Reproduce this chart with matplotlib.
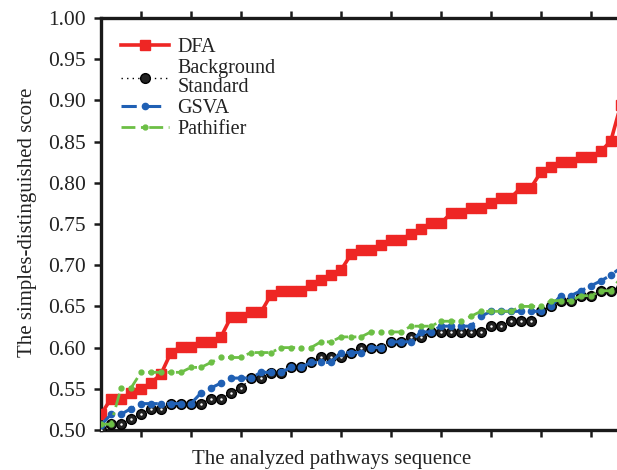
import matplotlib.pyplot as plt
import numpy as np

plt.rcParams['font.family'] = ['Liberation Serif', 'DejaVu Serif']

# pathway index 1..53 (the last point is cut off by the right border)
pathway_idx = np.arange(1, 54)

dfa = [0.519, 0.538, 0.538, 0.545, 0.550, 0.557, 0.568, 0.594, 0.601, 0.601,
       0.607, 0.607, 0.613, 0.637, 0.637, 0.643, 0.643, 0.664, 0.669, 0.669,
       0.669, 0.676, 0.682, 0.688, 0.694, 0.713, 0.718, 0.718, 0.725, 0.731,
       0.731, 0.738, 0.744, 0.751, 0.751, 0.763, 0.763, 0.769, 0.769, 0.775,
       0.782, 0.782, 0.794, 0.794, 0.813, 0.819, 0.825, 0.825, 0.831, 0.831,
       0.838, 0.851, 0.895]

background = [0.500, 0.507, 0.507, 0.513, 0.519, 0.526, 0.526, 0.532, 0.532, 0.532,
              0.532, 0.538, 0.538, 0.545, 0.551, 0.563, 0.563, 0.569, 0.569, 0.576,
              0.576, 0.582, 0.588, 0.588, 0.588, 0.594, 0.600, 0.600, 0.600, 0.607,
              0.607, 0.613, 0.613, 0.619, 0.619, 0.619, 0.619, 0.619, 0.619, 0.626,
              0.626, 0.632, 0.632, 0.632, 0.644, 0.650, 0.657, 0.657, 0.663, 0.663,
              0.669, 0.669, 0.672]

gsva = [0.506, 0.519, 0.519, 0.526, 0.532, 0.532, 0.532, 0.532, 0.532, 0.532,
        0.545, 0.551, 0.557, 0.563, 0.563, 0.563, 0.570, 0.570, 0.570, 0.576,
        0.576, 0.582, 0.582, 0.582, 0.594, 0.594, 0.594, 0.600, 0.600, 0.607,
        0.607, 0.607, 0.619, 0.619, 0.626, 0.626, 0.626, 0.626, 0.638, 0.644,
        0.644, 0.644, 0.644, 0.644, 0.644, 0.650, 0.663, 0.663, 0.669, 0.675,
        0.681, 0.688, 0.697]

pathifier = [0.507, 0.507, 0.551, 0.551, 0.570, 0.570, 0.570, 0.570, 0.570, 0.576,
             0.576, 0.582, 0.588, 0.588, 0.588, 0.594, 0.594, 0.594, 0.600, 0.600,
             0.600, 0.600, 0.607, 0.607, 0.613, 0.613, 0.613, 0.619, 0.619, 0.619,
             0.619, 0.626, 0.626, 0.626, 0.632, 0.632, 0.632, 0.638, 0.644, 0.644,
             0.644, 0.644, 0.650, 0.650, 0.650, 0.657, 0.657, 0.657, 0.663, 0.663,
             0.669, 0.669, 0.685]

y_ticks = [0.50, 0.55, 0.60, 0.65, 0.70, 0.75, 0.80, 0.85, 0.90, 0.95, 1.00]
x_ticks = [5, 10, 15, 20, 25, 30, 35, 40, 45, 50]

fig = plt.figure(figsize=(6.17, 4.70), dpi=100)
ax = fig.add_axes([0.1637, 0.0851, 0.875, 0.8766])

ax.plot(pathway_idx, dfa, color='#ee2624', lw=2.6, marker='s', ms=6.5,
        label='DFA', zorder=3)
ax.plot(pathway_idx, background, color='black', lw=1.0, ls=(0, (1, 3)),
        marker='o', ms=7, mfc='#222222', mec='black',
        label='Background\nStandard', zorder=4)
ax.plot(pathway_idx, background, ls='none', marker='.', ms=1.5, color='white',
        zorder=4.1)
ax.plot(pathway_idx, gsva, color='#2060b4', lw=2.2, ls=(0, (5, 3)),
        marker='o', ms=4.5, label='GSVA', zorder=5)
ax.plot(pathway_idx, pathifier, color='#6cbf45', lw=2.0, ls=(0, (5, 2, 1, 2)),
        marker='o', ms=3.5, label='Pathifier', zorder=6)

ax.set_xlim(1, 55)
ax.set_ylim(0.50, 1.00)
ax.set_xticks(x_ticks)
ax.set_xticklabels([])
ax.set_yticks(y_ticks)
ax.set_yticklabels(['%.2f' % v for v in y_ticks], fontsize=15.5, color='#222222')
ax.tick_params(direction='out', length=5, width=1.8, top=True, right=False,
               color='#1a1a1a', pad=6)
for side in ['left', 'bottom', 'top']:
    ax.spines[side].set_linewidth(2.4)
    ax.spines[side].set_color('#1a1a1a')
ax.spines['right'].set_visible(False)

ax.set_ylabel('The simples-distinguished score', fontsize=15, color='#222222')
ax.yaxis.set_label_coords(-0.118, 0.505)
ax.set_xlabel('The analyzed pathways sequence', fontsize=15, color='#222222')
ax.xaxis.set_label_coords(0.428, -0.048)

leg = ax.legend(loc='upper left', bbox_to_anchor=(0.0, 1.0), frameon=False,
                fontsize=14.5, handlelength=2.4, handletextpad=0.4,
                labelspacing=0.1, borderaxespad=0.6)
for t in leg.get_texts():
    t.set_linespacing(0.95)
    t.set_color('#222222')

fig.savefig('out.png', dpi=100, facecolor='white')
